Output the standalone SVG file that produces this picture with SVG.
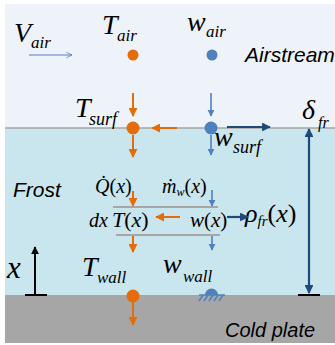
<svg xmlns="http://www.w3.org/2000/svg" width="335" height="345" viewBox="0 0 335 345">
<defs>
<style>
.m{font-family:"Liberation Serif","Times New Roman",serif;font-style:italic;fill:#000}
.up{font-style:normal}
.lbl{font-family:"Liberation Sans",Arial,sans-serif;font-style:italic;font-size:20px;fill:#000}
.or{stroke:#E46C0A;stroke-width:2;fill:none}
.lb{stroke:#4F81BD;stroke-width:1.6;fill:none}
.db{stroke:#1F497D;stroke-width:2.2;fill:none}
.gl{stroke:#A6A6A6;stroke-width:2}
</style>
<marker id="ao" viewBox="0 0 10 10" refX="9" refY="5" markerWidth="4.5" markerHeight="4.5" orient="auto"><path d="M0,0L10,5L0,10z" fill="#E46C0A"/></marker>
<marker id="al" viewBox="0 0 10 10" refX="9" refY="5" markerWidth="4.5" markerHeight="4.5" orient="auto"><path d="M0,0L10,5L0,10z" fill="#4F81BD"/></marker>
<marker id="ad" viewBox="0 0 10 10" refX="9" refY="5" markerWidth="4" markerHeight="4" orient="auto"><path d="M0,0L10,5L0,10z" fill="#1F497D"/></marker>
<marker id="ads" viewBox="0 0 10 10" refX="9" refY="5" markerWidth="4" markerHeight="4" orient="auto-start-reverse"><path d="M0,0L10,5L0,10z" fill="#1F497D"/></marker>
<marker id="ak" viewBox="0 0 10 10" refX="9" refY="5" markerWidth="4" markerHeight="4" orient="auto"><path d="M0,0L10,5L0,10z" fill="#000"/></marker>
<marker id="av" viewBox="0 0 10 10" refX="9" refY="5" markerWidth="8" markerHeight="8" orient="auto"><path d="M2,1.5L9,5L2,8.5" fill="none" stroke="#4F81BD" stroke-width="1"/></marker>
</defs>
<rect x="0" y="0" width="335" height="345" fill="#FFFFFF"/>
<g id="airstream">
<rect x="5" y="4" width="330" height="124" fill="#EEF2F9"/>
<text class="lbl" x="245" y="62" font-size="21" style="font-size:21px">Airstream</text>
</g>
<g id="frost">
<rect x="5" y="128" width="330" height="167" fill="#C9E5EE"/>
<line x1="5" y1="128" x2="335" y2="128" stroke="#A6A6A6" stroke-width="1.5"/>
<text class="lbl" x="13" y="197" style="font-size:21px">Frost</text>
</g>
<g id="coldplate">
<rect x="5" y="295" width="330" height="48" fill="#A6A6A6"/>
<text class="lbl" x="225" y="337">Cold plate</text>
</g>
<g id="v-air">
<text class="m" x="14" y="42" font-size="28">V</text>
<text class="m" x="31" y="48" font-size="17">air</text>
</g>
<g id="t-air">
<text class="m" x="102" y="34" font-size="28">T</text>
<text class="m" x="117" y="41" font-size="17">air</text>
<circle cx="133" cy="55" r="5.5" fill="#E46C0A"/>
</g>
<g id="w-air">
<text class="m" x="187" y="31" font-size="28">w</text>
<text class="m" x="206" y="37" font-size="17">air</text>
<circle cx="212" cy="55" r="5.5" fill="#4F81BD"/>
</g>
<g id="t-surf">
<text class="m" x="75" y="117" font-size="28">T</text>
<text class="m" x="89" y="125" font-size="18">surf</text>
<circle cx="133" cy="128" r="6.5" fill="#E46C0A"/>
</g>
<g id="w-surf">
<circle cx="211" cy="128" r="6.5" fill="#4F81BD"/>
<text class="m" x="214" y="146" font-size="28">w</text>
<text class="m" x="233" y="153" font-size="18">surf</text>
</g>
<g id="delta-fr">
<text class="m" x="302" y="119" font-size="28">δ</text>
<text class="m" x="318" y="128" font-size="16">fr</text>
</g>
<g id="element">
<text class="m" x="95" y="193" font-size="20">Q̇<tspan class="up">(</tspan>x<tspan class="up">)</tspan></text>
<text class="m" x="162" y="193" font-size="20">ṁ<tspan font-size="12" dy="3">w</tspan><tspan class="up" dy="-3">(</tspan>x<tspan class="up">)</tspan></text>
<text class="m" x="89" y="227" font-size="20">dx</text>
<text class="m" x="112" y="227" font-size="22">T<tspan class="up">(</tspan>x<tspan class="up">)</tspan></text>
<text class="m" x="190" y="227" font-size="21">w<tspan class="up">(</tspan>x<tspan class="up">)</tspan></text>
<text class="m" x="245" y="222" font-size="26">ρ<tspan font-size="15" dy="4">fr</tspan><tspan class="up" dy="-4">(</tspan>x<tspan class="up">)</tspan></text>
</g>
<g id="t-wall">
<text class="m" x="82" y="276" font-size="28">T</text>
<text class="m" x="97" y="283" font-size="17">wall</text>
<circle cx="133" cy="296" r="6.5" fill="#E46C0A"/>
</g>
<g id="w-wall">
<text class="m" x="163" y="273" font-size="28">w</text>
<text class="m" x="183" y="282" font-size="17">wall</text>
<path d="M205,295A6.5,6.5 0 0 1 218,295Z" fill="#4F81BD"/>
<path d="M199,295H225M203,295L199,301M208,295L204,301M213,295L209,301M218,295L214,301M223,295L219,301" stroke="#4F81BD" stroke-width="1.5" fill="none"/>
</g>
<g id="x-axis">
<text class="m" x="7" y="278" font-size="31">x</text>
<line x1="35" y1="295" x2="35" y2="247" stroke="#000" stroke-width="2" marker-end="url(#ak)"/>
<line x1="25" y1="295" x2="47" y2="295" stroke="#000" stroke-width="2"/>
</g>
<g id="connectors">
<line x1="29" y1="55" x2="72" y2="55" stroke="#4F81BD" stroke-width="1" marker-end="url(#av)"/>
<line class="gl" x1="113" y1="207" x2="218" y2="207"/>
<line class="gl" x1="116" y1="235" x2="220" y2="235"/>
<line class="or" x1="133" y1="93" x2="133" y2="116" marker-end="url(#ao)"/>
<line class="or" x1="133" y1="135" x2="133" y2="157" marker-end="url(#ao)"/>
<line class="or" x1="177" y1="128" x2="152" y2="128" marker-end="url(#ao)"/>
<line class="or" x1="133" y1="191" x2="133" y2="206" marker-end="url(#ao)"/>
<line class="or" x1="180" y1="217" x2="156" y2="217" marker-end="url(#ao)"/>
<line class="or" x1="133" y1="236" x2="133" y2="252" marker-end="url(#ao)"/>
<line class="or" x1="133" y1="302" x2="133" y2="325" marker-end="url(#ao)"/>
<line class="lb" x1="211" y1="93" x2="211" y2="116" marker-end="url(#al)"/>
<line class="lb" x1="211" y1="135" x2="211" y2="155" marker-end="url(#al)"/>
<line class="lb" x1="212" y1="190" x2="212" y2="206" marker-end="url(#al)"/>
<line class="lb" x1="212" y1="236" x2="212" y2="250" marker-end="url(#al)"/>
<line class="db" x1="227" y1="127" x2="270" y2="127" marker-end="url(#ad)"/>
<line class="db" x1="227" y1="217" x2="248" y2="217" marker-end="url(#ad)"/>
<line class="db" x1="309" y1="129" x2="309" y2="293" marker-start="url(#ads)" marker-end="url(#ads)"/>
<line x1="298" y1="295" x2="320" y2="295" stroke="#000" stroke-width="2"/>
</g>
</svg>
